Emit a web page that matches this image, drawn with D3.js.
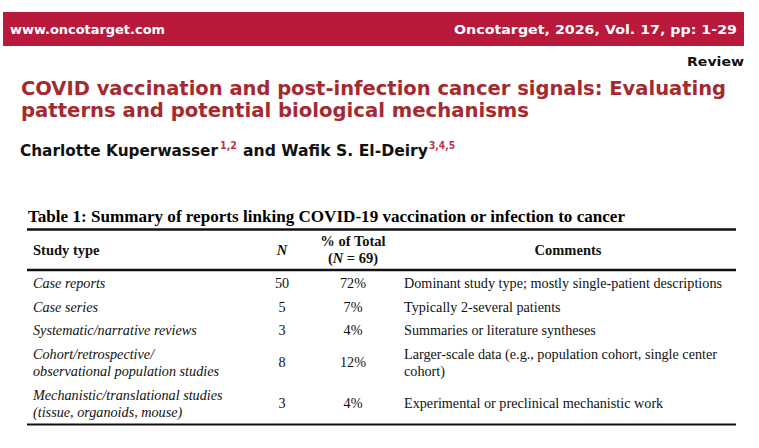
<!DOCTYPE html>
<html lang="en">
<head>
    <meta charset="UTF-8">
    <title>Table 1</title>
    <style>
        html, body { margin: 0; padding: 0; background: #fff; }
        svg { display: block; }
    </style>
</head>
<body>
<script src="https://d3js.org/d3.v7.min.js" type="text/javascript"></script>
<script>
    // table data
    var studyTypes = [
        ["Case reports"],
        ["Case series"],
        ["Systematic/narrative reviews"],
        ["Cohort/retrospective/", "observational population studies"],
        ["Mechanistic/translational studies", "(tissue, organoids, mouse)"]
    ];
    var counts = [50, 5, 3, 8, 3];
    var percents = ["72%", "7%", "4%", "12%", "4%"];
    var comments = [
        ["Dominant study type; mostly single-patient descriptions"],
        ["Typically 2-several patients"],
        ["Summaries or literature syntheses"],
        ["Larger-scale data (e.g., population cohort, single center", "cohort)"],
        ["Experimental or preclinical mechanistic work"]
    ];
    var total = 69;

    const W = 759, H = 448;
    const crimson = "#b9193a";
    const titleRed = "#a52a2f";
    const serif = "'Liberation Serif', 'Times New Roman', serif";
    const sans = "'DejaVu Sans', Verdana, sans-serif";

    const svg = d3.select("body")
        .append("svg")
        .attr("width", W)
        .attr("height", H);

    // header banner
    svg.append("rect")
        .attr("x", 3).attr("y", 12)
        .attr("width", 741).attr("height", 34)
        .attr("fill", crimson);
    svg.append("text")
        .attr("x", 10).attr("y", 34)
        .attr("font-family", sans).attr("font-weight", "bold").attr("font-size", 13)
        .attr("fill", "#fff")
        .attr("textLength", 155).attr("lengthAdjust", "spacingAndGlyphs")
        .text("www.oncotarget.com");
    svg.append("text")
        .attr("x", 737).attr("y", 34)
        .attr("text-anchor", "end")
        .attr("font-family", sans).attr("font-weight", "bold").attr("font-size", 13)
        .attr("fill", "#fff")
        .attr("textLength", 283).attr("lengthAdjust", "spacingAndGlyphs")
        .text("Oncotarget, 2026, Vol. 17, pp: 1-29");
    svg.append("text")
        .attr("x", 744).attr("y", 66)
        .attr("text-anchor", "end")
        .attr("font-family", sans).attr("font-weight", "bold").attr("font-size", 13)
        .attr("fill", "#111")
        .attr("textLength", 57).attr("lengthAdjust", "spacingAndGlyphs")
        .text("Review");

    // title
    var titleLines = [
        {t: "COVID vaccination and post-infection cancer signals: Evaluating", w: 705, y: 95},
        {t: "patterns and potential biological mechanisms", w: 508, y: 117}
    ];
    svg.selectAll(".title").data(titleLines).enter().append("text")
        .attr("class", "title")
        .attr("x", 21).attr("y", d => d.y)
        .attr("font-family", sans).attr("font-weight", "bold").attr("font-size", 19)
        .attr("fill", titleRed)
        .attr("textLength", d => d.w).attr("lengthAdjust", "spacingAndGlyphs")
        .text(d => d.t);

    // authors
    var authorParts = [
        {t: "Charlotte Kuperwasser", x: 20, w: 198, sup: false},
        {t: "1,2", x: 220, w: 17, sup: true},
        {t: "and Wafik S. El-Deiry", x: 243, w: 185, sup: false},
        {t: "3,4,5", x: 429, w: 26, sup: true}
    ];
    svg.selectAll(".author").data(authorParts).enter().append("text")
        .attr("class", "author")
        .attr("x", d => d.x).attr("y", d => d.sup ? 149 : 156)
        .attr("font-family", sans).attr("font-weight", "bold")
        .attr("font-size", d => d.sup ? 10 : 15.5)
        .attr("fill", d => d.sup ? "#c0304a" : "#111")
        .attr("textLength", d => d.w).attr("lengthAdjust", "spacingAndGlyphs")
        .text(d => d.t);

    // table title
    svg.append("text")
        .attr("x", 28).attr("y", 222)
        .attr("font-family", serif).attr("font-weight", "bold").attr("font-size", 16.5)
        .attr("fill", "#000")
        .attr("textLength", 597).attr("lengthAdjust", "spacingAndGlyphs")
        .text("Table 1: Summary of reports linking COVID-19 vaccination or infection to cancer");

    // columns
    var cols = ["type", "n", "pct", "comment"];
    var colX = d3.scaleOrdinal().domain(cols).range([33, 282, 353, 404]);
    var tableLeft = 27, tableRight = 736;

    // rows: baseline of each text line through a linear scale on "line units"
    var lineH = 17.5, rowGap = 6;
    var rowLines = studyTypes.map((s, i) => Math.max(s.length, comments[i].length));
    var rowStart = [];
    var acc = 0;
    rowLines.forEach((n, i) => { rowStart.push(acc + i * rowGap / lineH); acc += n; });
    var totalUnits = acc + (rowLines.length - 1) * rowGap / lineH;
    var y = d3.scaleLinear().domain([0, totalUnits]).range([288, 288 + totalUnits * lineH]);

    // rules
    var rules = [
        {y: 229.5, w: 2.6},
        {y: 270, w: 2.6},
        {y: y(totalUnits) - lineH + 7.5, w: 2}
    ];
    svg.selectAll(".rule").data(rules).enter().append("line")
        .attr("class", "rule")
        .attr("x1", tableLeft).attr("x2", tableRight)
        .attr("y1", d => d.y).attr("y2", d => d.y)
        .attr("stroke", "#111").attr("stroke-width", d => d.w);

    // column headers
    var hdr = svg.append("g")
        .attr("font-family", serif).attr("font-weight", "bold").attr("font-size", 14.5)
        .attr("fill", "#111");
    hdr.append("text").attr("x", colX("type")).attr("y", 255).text("Study type");
    hdr.append("text").attr("x", colX("n")).attr("y", 255).attr("text-anchor", "middle")
        .attr("font-style", "italic").text("N");
    hdr.append("text").attr("x", colX("pct")).attr("y", 246).attr("text-anchor", "middle").text("% of Total");
    var nTot = hdr.append("text").attr("x", colX("pct")).attr("y", 263).attr("text-anchor", "middle");
    nTot.append("tspan").text("(");
    nTot.append("tspan").attr("font-style", "italic").text("N");
    nTot.append("tspan").text(" = " + total + ")");
    hdr.append("text").attr("x", 568).attr("y", 255).attr("text-anchor", "middle").text("Comments");

    // body rows
    var rowsData = studyTypes.map((s, i) => ({
        type: s, n: counts[i], pct: percents[i], comment: comments[i],
        start: rowStart[i], lines: rowLines[i]
    }));
    var rows = svg.selectAll(".row").data(rowsData).enter().append("g")
        .attr("class", "row")
        .attr("font-family", serif).attr("font-size", 14.2).attr("fill", "#111");

    function cellLines(g, key, getLines, anchor, italic) {
        g.each(function (d) {
            var ls = getLines(d);
            var off = (d.lines - ls.length) / 2;
            d3.select(this).selectAll("text." + key).data(ls).enter().append("text")
                .attr("class", key)
                .attr("x", colX(key))
                .attr("y", (t, j) => y(d.start + off + j))
                .attr("text-anchor", anchor)
                .attr("font-style", italic ? "italic" : null)
                .text(t => t);
        });
    }
    cellLines(rows, "type", d => d.type, "start", true);
    cellLines(rows, "n", d => [String(d.n)], "middle", false);
    cellLines(rows, "pct", d => [d.pct], "middle", false);
    cellLines(rows, "comment", d => d.comment, "start", false);
</script>
</body>
</html>
